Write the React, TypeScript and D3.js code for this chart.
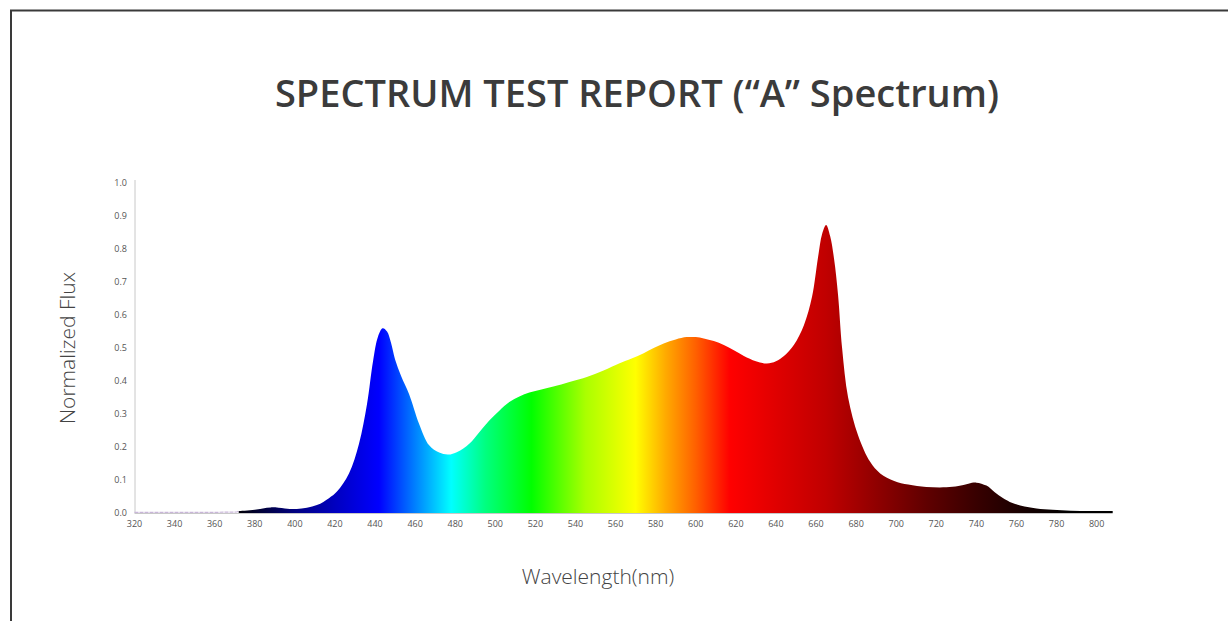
import React from "react"
import * as d3 from "d3"

// spectrum samples
const wavelengths = [320, 340, 360, 371, 372, 380, 388, 395, 401, 411, 417, 421, 427, 432, 436, 439, 441.5, 443.8, 446, 448, 450, 453, 457, 462, 467, 472, 476.5, 481, 487, 492, 497, 502, 507, 512, 517, 523, 529, 537, 546, 554, 562, 568, 574, 579, 584, 590, 595.5, 600, 604, 609, 614, 619, 624, 630, 635.5, 640, 644, 649, 654, 658, 661, 663, 665, 667, 669, 671, 673, 676, 681, 687, 692, 699, 706, 715, 725, 731, 736, 740, 745, 749, 753, 758, 764, 770, 778, 787, 797, 808]
const flux = [0.002, 0.002, 0.002, 0.003, 0.006, 0.01, 0.017, 0.014, 0.012, 0.024, 0.045, 0.065, 0.12, 0.21, 0.33, 0.46, 0.535, 0.56, 0.55, 0.515, 0.465, 0.415, 0.36, 0.27, 0.205, 0.183, 0.177, 0.185, 0.21, 0.245, 0.28, 0.31, 0.336, 0.353, 0.365, 0.374, 0.383, 0.397, 0.413, 0.432, 0.454, 0.468, 0.484, 0.5, 0.514, 0.526, 0.533, 0.533, 0.529, 0.521, 0.509, 0.493, 0.476, 0.46, 0.453, 0.46, 0.476, 0.51, 0.57, 0.655, 0.775, 0.845, 0.873, 0.84, 0.77, 0.66, 0.5, 0.35, 0.235, 0.155, 0.12, 0.097, 0.086, 0.079, 0.078, 0.082, 0.089, 0.092, 0.083, 0.064, 0.046, 0.03, 0.02, 0.014, 0.01, 0.007, 0.006, 0.006]

const xTicks = d3.range(320, 801, 20)
const yTicks = d3.range(0, 1.01, 0.1)

// colour of the light at each wavelength
const stopWavelengths = [372, 385, 400, 420, 442, 460, 478, 495, 518, 545, 570, 585, 600, 617, 640, 665, 690, 715, 740, 765, 786]
const stopColors = ["#000008", "#000040", "#000080", "#0000c0", "#0000ff", "#0080ff", "#00ffff", "#00ff80", "#00ff00", "#aaff00", "#ffff00", "#ffaa00", "#ff6000", "#ff0000", "#e00000", "#c00000", "#900000", "#600000", "#380000", "#150000", "#000000"]

const W = 1228
const H = 621
const font = "'Open Sans', 'Noto Sans', sans-serif"

export default function App() {
  const data = wavelengths.map((w, i) => ({ w, v: flux[i] }))

  const x = d3.scaleLinear().domain([320, 808]).range([134.5, 1112.7])
  const y = d3.scaleLinear().domain([0, 1]).range([513, 183])

  const area = d3.area<{ w: number; v: number }>()
    .x(d => x(d.w))
    .y0(y(0))
    .y1(d => y(d.v))
    .curve(d3.curveCatmullRom.alpha(0.5))

  const line = d3.line<{ w: number; v: number }>()
    .x(d => x(d.w))
    .y(d => y(d.v))

  const lit = data.filter(d => d.w >= 372)
  const tail = data.filter(d => d.w <= 372)

  return (
    <svg width={W} height={H} style={{ position: "absolute", left: 0, top: 0, background: "#fff" }}>
      <defs>
        <linearGradient id="spectrum" gradientUnits="userSpaceOnUse" x1={x(320)} x2={x(808)} y1={0} y2={0}>
          {stopWavelengths.map((w, i) => (
            <stop key={i} offset={(w - 320) / (808 - 320)} stopColor={stopColors[i]} />
          ))}
        </linearGradient>
      </defs>

      {/* frame */}
      <path d={`M11,${H + 5} V10.5 H${W + 5}`} fill="none" stroke="#3a3a3a" strokeWidth={2} />

      <text x={637} y={107} textAnchor="middle" fontFamily={font} fontWeight={600} fontSize={38} fill="#3b3b3b">
        SPECTRUM TEST REPORT (“A” Spectrum)
      </text>

      {/* axes */}
      <line x1={x(320)} x2={x(808)} y1={y(0) + 0.5} y2={y(0) + 0.5} stroke="#c8c8c8" />
      <line x1={x(320) + 0.5} x2={x(320) + 0.5} y1={180} y2={y(0)} stroke="#c8c8c8" />

      {yTicks.map(t => (
        <text key={t} x={127} y={y(t) + 3} textAnchor="end" fontFamily={font} fontSize={9} fill="#555">
          {t.toFixed(1)}
        </text>
      ))}
      {xTicks.map(t => (
        <text key={t} x={x(t)} y={527} textAnchor="middle" fontFamily={font} fontSize={9} fill="#555">
          {t}
        </text>
      ))}

      {/* spectrum */}
      <path d={line(tail) ?? ""} fill="none" stroke="#c9b6d9" strokeWidth={1.2} strokeDasharray="4 1" />
      <path d={area(lit) ?? ""} fill="url(#spectrum)" />

      <text x={598} y={584} textAnchor="middle" fontFamily={font} fontWeight={300} fontSize={21} fill="#444">
        Wavelength(nm)
      </text>
      <text transform={`translate(75,348) rotate(-90)`} textAnchor="middle" fontFamily={font} fontWeight={300} fontSize={21} fill="#444">
        Normalized Flux
      </text>
    </svg>
  )
}
